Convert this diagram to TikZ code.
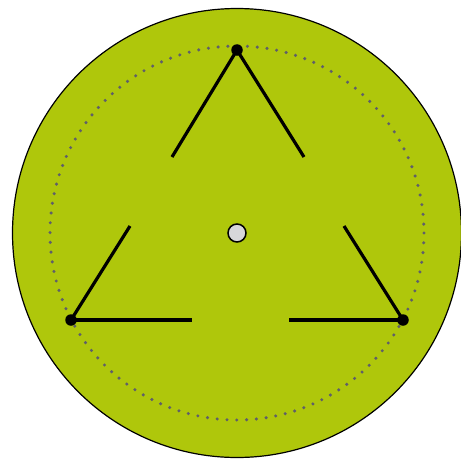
\documentclass[tikz,border=0pt]{standalone}
\definecolor{disc}{RGB}{175,199,11}
\definecolor{dotc}{RGB}{95,95,105}
\definecolor{hub}{RGB}{215,215,218}
\begin{document}
\begin{tikzpicture}[x=1pt,y=-1pt,
  side/.style={line width=3.2pt},
  vertex/.style={circle,fill=black,inner sep=0pt,minimum size=11.5pt},
  hubdot/.style={circle,draw=black,fill=hub,line width=1.5pt,inner sep=0pt,minimum size=18pt}]
\useasboundingbox (0,0) rectangle (461,461);
\fill[disc,draw=black,line width=1.2pt] (237,233) circle (224.5);
\draw[dotc,line width=3.4pt,line cap=round,dash pattern=on 0pt off 9.8pt] (237,233) circle (187);
\node[vertex] (T) at (237,50) {};
\node[vertex] (L) at (71,320) {};
\node[vertex] (R) at (403,320) {};
\node[hubdot] (C) at (237,233) {};
\coordinate (l1) at (172,157);
\coordinate (l2) at (130,226);
\coordinate (r1) at (304,157);
\coordinate (r2) at (344,226);
\coordinate (b1) at (192,320);
\coordinate (b2) at (289,320);
\draw[side] (T.center) -- (l1);
\draw[side] (l2) -- (L.center);
\draw[side] (T.center) -- (r1);
\draw[side] (r2) -- (R.center);
\draw[side] (L.center) -- (b1);
\draw[side] (b2) -- (R.center);
\end{tikzpicture}
\end{document}
